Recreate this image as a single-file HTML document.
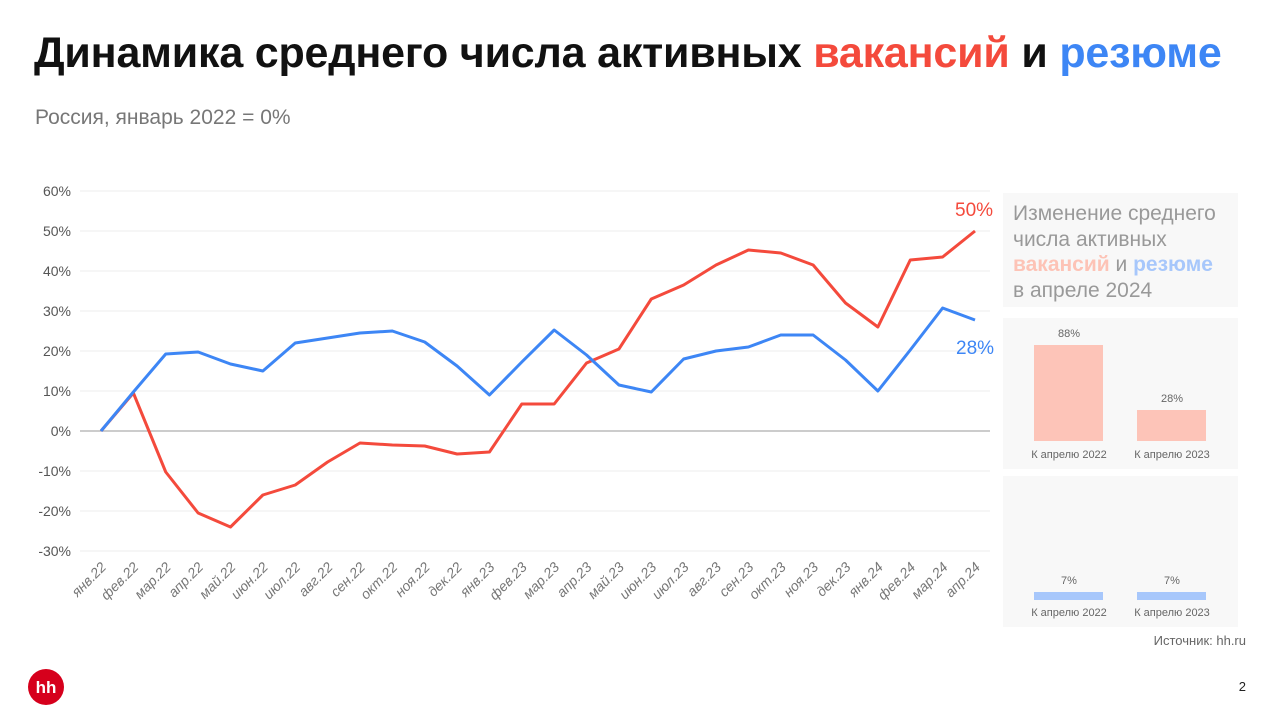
<!DOCTYPE html>
<html><head><meta charset="utf-8"><style>
body{margin:0;width:1280px;height:720px;background:#fff;font-family:"Liberation Sans",sans-serif;overflow:hidden;position:relative}
.t{position:absolute;left:34px;top:29px;font-size:43px;font-weight:bold;color:#111;letter-spacing:-0.2px;white-space:nowrap}
.s{position:absolute;left:35px;top:106px;font-size:21px;color:#777}
</style></head><body>
<div class="t">Динамика среднего числа активных <span style="color:#f44a3c">вакансий</span> и <span style="color:#3d86f5">резюме</span></div>
<div class="s">Россия, январь 2022 = 0%</div>
<svg width="1280" height="720" style="position:absolute;left:0;top:0" font-family="Liberation Sans, sans-serif">
<g stroke="#eee" stroke-width="1">
<line x1="80" x2="990" y1="191" y2="191"/><line x1="80" x2="990" y1="231" y2="231"/><line x1="80" x2="990" y1="271" y2="271"/><line x1="80" x2="990" y1="311" y2="311"/><line x1="80" x2="990" y1="351" y2="351"/><line x1="80" x2="990" y1="391" y2="391"/><line x1="80" x2="990" y1="471" y2="471"/><line x1="80" x2="990" y1="511" y2="511"/><line x1="80" x2="990" y1="551" y2="551"/>
</g>
<line x1="80" x2="990" y1="431" y2="431" stroke="#999"/>
<g font-size="14" fill="#555" text-anchor="end">
<text x="71" y="196">60%</text><text x="71" y="236">50%</text><text x="71" y="276">40%</text><text x="71" y="316">30%</text><text x="71" y="356">20%</text><text x="71" y="396">10%</text><text x="71" y="436">0%</text><text x="71" y="476">-10%</text><text x="71" y="516">-20%</text><text x="71" y="556">-30%</text>
</g>
<g font-size="14" fill="#777" font-style="italic" text-anchor="end" id="xl"></g>
<polyline id="r" fill="none" stroke="#f44a3c" stroke-width="3" stroke-linejoin="round"/>
<polyline id="b" fill="none" stroke="#3d86f5" stroke-width="3" stroke-linejoin="round"/>
<text x="955" y="216" font-size="19" fill="#f44a3c">50%</text>
<text x="956" y="354" font-size="19" fill="#3d86f5">28%</text>
<rect x="1003" y="193" width="235" height="114" fill="#f8f8f8"/>
<g font-size="21" fill="#999"><text x="1013" y="220">Изменение среднего</text><text x="1013" y="246">числа активных</text>
<text x="1013" y="271"><tspan fill="#fdc3b6" font-weight="bold">вакансий</tspan> и <tspan fill="#a7c7fb" font-weight="bold">резюме</tspan></text><text x="1013" y="297">в апреле 2024</text></g>
<rect x="1003" y="318" width="235" height="151" fill="#f8f8f8"/>
<rect x="1034" y="345" width="69" height="96" fill="#fdc4b8"/>
<rect x="1137" y="410" width="69" height="31" fill="#fdc4b8"/>
<rect x="1003" y="476" width="235" height="151" fill="#f8f8f8"/>
<rect x="1034" y="592" width="69" height="8" fill="#a7c7fb"/>
<rect x="1137" y="592" width="69" height="8" fill="#a7c7fb"/>
<g font-size="11" fill="#666" text-anchor="middle">
<text x="1069" y="337">88%</text><text x="1172" y="402">28%</text>
<text x="1069" y="458">К апрелю 2022</text><text x="1172" y="458">К апрелю 2023</text>
<text x="1069" y="584">7%</text><text x="1172" y="584">7%</text>
<text x="1069" y="616">К апрелю 2022</text><text x="1172" y="616">К апрелю 2023</text>
</g>
<text x="1246" y="645" font-size="13" fill="#666" text-anchor="end">Источник: hh.ru</text>
<text x="1246" y="691" font-size="13" fill="#222" text-anchor="end">2</text>
<circle cx="46" cy="687" r="18" fill="#d6001c"/>
<text x="46" y="693" font-size="17" font-weight="bold" fill="#fff" text-anchor="middle">hh</text>
</svg>
<script>
var R=[431,393,472,513,527,495,485,462,443,445,446,454,452,404,404,363,349,299,285,265,250,253,265,303,327,260,257,231];
var B=[431,392,354,352,364,371,343,338,333,331,342,366,395,362,330,355,385,392,359,351,347,335,335,360,391,350,308,320];
var L=["янв.22","фев.22","мар.22","апр.22","май.22","июн.22","июл.22","авг.22","сен.22","окт.22","ноя.22","дек.22","янв.23","фев.23","мар.23","апр.23","май.23","июн.23","июл.23","авг.23","сен.23","окт.23","ноя.23","дек.23","янв.24","фев.24","мар.24","апр.24"];
function X(i){return 101+i*874/27}
document.getElementById('r').setAttribute('points',R.map((y,i)=>X(i)+','+y).join(' '));
document.getElementById('b').setAttribute('points',B.map((y,i)=>X(i)+','+y).join(' '));
var g=document.getElementById('xl'),h='';
L.forEach((l,i)=>{var x=X(i)+6,y=568;h+='<text x="'+x+'" y="'+y+'" transform="rotate(-45 '+x+' '+y+')">'+l+'</text>'});
g.innerHTML=h;
</script>
</body></html>
